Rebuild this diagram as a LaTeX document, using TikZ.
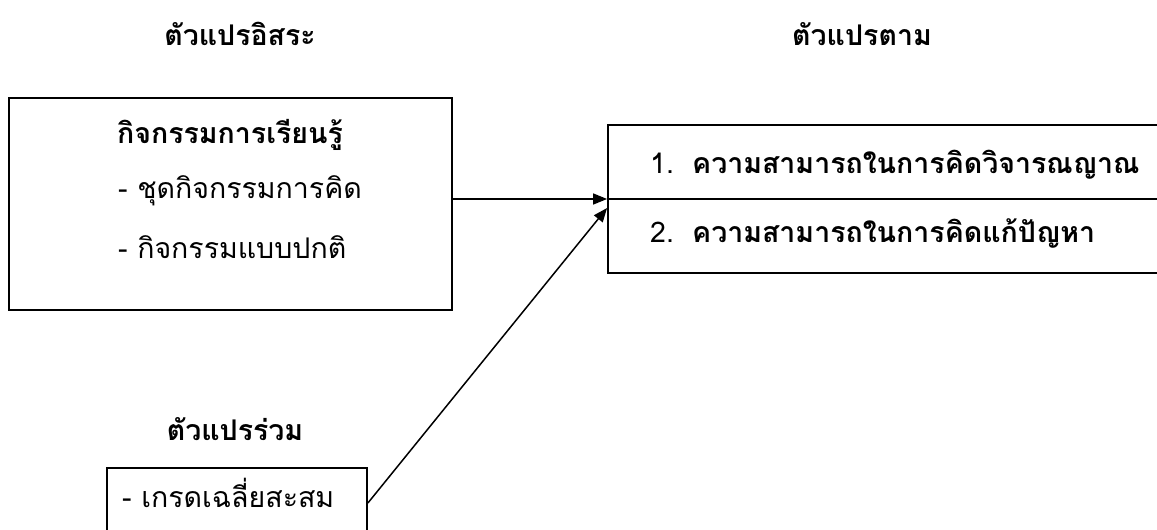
\documentclass[tikz,border=0pt]{standalone}
\usepackage{fontspec}
\setmainfont{Loma}[Script=Thai]
\usetikzlibrary{positioning}
\usetikzlibrary{arrows.meta}

\begin{document}
\begin{tikzpicture}[x=1pt, y=-1pt,
			box/.style={draw, rectangle, line width=1.8pt, inner sep=0pt},
			heading/.style={font=\fontsize{28.5}{34}\selectfont\bfseries, inner sep=0pt, anchor=base},
			item/.style={font=\fontsize{28.5}{34}\selectfont, inner sep=0pt, anchor=base west},
			>={Triangle[length=14pt, width=11pt]}]
			\useasboundingbox (0,0) rectangle (1157,530);
			
			\node[heading](indep) at (240,45) {ตัวแปรอิสระ};
			\node[heading](dep) at (862,45) {ตัวแปรตาม};
			\node[heading](cov) at (235,440) {ตัวแปรร่วม};
			
			\node[box, minimum width=443pt, minimum height=212pt](act) at (230.5,204) {};
			\node[heading](acttitle) at (230,143) {กิจกรรมการเรียนรู้};
			\node[item](act1) at (118,198) {- ชุดกิจกรรมการคิด};
			\node[item](act2) at (118,258) {- กิจกรรมแบบปกติ};
			
			\node[box, minimum width=557pt, minimum height=148pt](dv) at (886.5,199) {};
			\draw[line width=1.8pt] (dv.west) -- (dv.east);
			\node[item](dv1) at (650,173) {\makebox[42pt][l]{1.}\textbf{ความสามารถในการคิดวิจารณญาณ}};
			\node[item](dv2) at (650,242) {\makebox[42pt][l]{2.}\textbf{ความสามารถในการคิดแก้ปัญหา}};
			
			\node[box, minimum width=260pt, minimum height=70pt](gpa) at (237,503) {};
			\node[item](gpa1) at (122,507) {- เกรดเฉลี่ยสะสม};
			
			\coordinate[below=9pt of dv.west](dvin);
			\draw[->, line width=1.5pt] (act.east |- dv.west) -- (dv.west);
			\draw[->, line width=1.5pt] (gpa.east) -- (dvin);
			
		\end{tikzpicture}
\end{document}
